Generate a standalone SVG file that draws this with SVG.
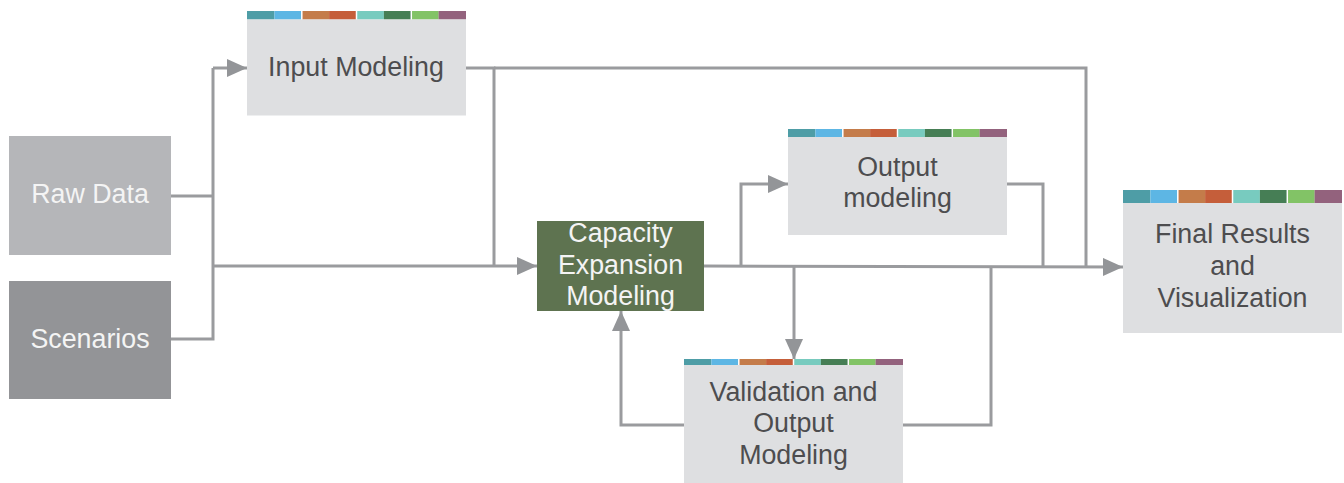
<svg xmlns="http://www.w3.org/2000/svg" width="1344" height="483" viewBox="0 0 1344 483">
  <style>
    .box { fill: #DEDFE1; }
    .lbl { font-family: "Liberation Sans", Arial, sans-serif; font-size: 26.8px; fill: #4D4D4F; text-anchor: middle; }
    .wlbl { font-family: "Liberation Sans", Arial, sans-serif; font-size: 26.8px; fill: #F4F4F4; text-anchor: middle; }
    .wire { fill: none; stroke: #9A9B9E; stroke-width: 3; }
    .c1 { fill: #4E9DA6; } .c2 { fill: #5DB6E4; } .c3 { fill: #C47C4A; } .c4 { fill: #C55E3A; }
    .c5 { fill: #78CBBF; } .c6 { fill: #467E55; } .c7 { fill: #82C366; } .c8 { fill: #93627D; }
    .gap { stroke: #FFFFFF; stroke-width: 1.5; }
  </style>
  <defs>
    <marker id="arrow" viewBox="0 0 20 18" refX="20" refY="9" markerWidth="20" markerHeight="18" markerUnits="userSpaceOnUse" orient="auto">
      <path d="M0,0 L20,9 L0,18 Z" fill="#939598"/>
    </marker>
    <!-- eight-colour header strip, 219 wide -->
    <g id="strip">
      <rect class="c1" x="0" y="0" width="27.4" height="1"/>
      <rect class="c2" x="27.4" y="0" width="27.4" height="1"/>
      <rect class="c3" x="54.8" y="0" width="27.4" height="1"/>
      <rect class="c4" x="82.1" y="0" width="27.4" height="1"/>
      <rect class="c5" x="109.5" y="0" width="27.4" height="1"/>
      <rect class="c6" x="136.9" y="0" width="27.4" height="1"/>
      <rect class="c7" x="164.3" y="0" width="27.4" height="1"/>
      <rect class="c8" x="191.6" y="0" width="27.4" height="1"/>
    </g>
  </defs>

  <!-- connectors -->
  <g id="connectors">
    <!-- sources to bus -->
    <polyline class="wire" points="171,196 213,196"/>
    <polyline class="wire" points="171,339 213,339 213,68"/>
    <polyline class="wire" points="213,68 247,68" marker-end="url(#arrow)"/>
    <polyline class="wire" points="213,266 537,266" marker-end="url(#arrow)"/>
    <!-- input modeling outputs -->
    <polyline class="wire" points="466,68 494,68 494,266"/>
    <polyline class="wire" points="494,68 1086,68 1086,267"/>
    <!-- capacity expansion outputs -->
    <polyline class="wire" points="704,266 1123,267" marker-end="url(#arrow)"/>
    <polyline class="wire" points="741,266 741,184 788,184" marker-end="url(#arrow)"/>
    <polyline class="wire" points="794,266 794,359" marker-end="url(#arrow)"/>
    <!-- output modeling to final -->
    <polyline class="wire" points="1007,184 1043,184 1043,267"/>
    <!-- validation loops -->
    <polyline class="wire" points="903,425 991,425 991,267"/>
    <polyline class="wire" points="684,425 621,425 621,311" marker-end="url(#arrow)"/>
  </g>

  <!-- Raw Data -->
  <g id="raw-data">
    <rect x="9" y="136" width="162" height="119" fill="#B5B6B9"/>
    <text class="wlbl" x="90" y="203">Raw Data</text>
  </g>

  <!-- Scenarios -->
  <g id="scenarios">
    <rect x="9" y="281" width="162" height="118" fill="#939497"/>
    <text class="wlbl" x="90" y="348">Scenarios</text>
  </g>

  <!-- Input Modeling -->
  <g id="input-modeling">
    <use href="#strip" transform="translate(247,11) scale(1,8.5)"/>
    <rect class="box" x="247" y="19.5" width="219" height="96"/>
    <text class="lbl" x="356" y="76">Input Modeling</text>
  </g>

  <!-- Capacity Expansion Modeling -->
  <g id="capacity-expansion">
    <rect x="537" y="221" width="167" height="90" fill="#5E7350"/>
    <text class="wlbl" x="620.5" y="242">Capacity</text>
    <text class="wlbl" x="620.5" y="274">Expansion</text>
    <text class="wlbl" x="620.5" y="305">Modeling</text>
  </g>

  <!-- Output modeling -->
  <g id="output-modeling">
    <use href="#strip" transform="translate(788,129) scale(1,8)"/>
    <rect class="box" x="788" y="137" width="219" height="98"/>
    <text class="lbl" x="897.5" y="176">Output</text>
    <text class="lbl" x="897.5" y="207">modeling</text>
  </g>

  <!-- Final Results and Visualization -->
  <g id="final-results">
    <use href="#strip" transform="translate(1123,190) scale(1,13)"/>
    <rect class="box" x="1123" y="203" width="219" height="130"/>
    <text class="lbl" x="1232.5" y="243">Final Results</text>
    <text class="lbl" x="1232.5" y="275">and</text>
    <text class="lbl" x="1232.5" y="307">Visualization</text>
  </g>

  <!-- Validation and Output Modeling -->
  <g id="validation">
    <use href="#strip" transform="translate(684,359) scale(1,6)"/>
    <rect class="box" x="684" y="365" width="219" height="118"/>
    <text class="lbl" x="793.5" y="401">Validation and</text>
    <text class="lbl" x="793.5" y="432">Output</text>
    <text class="lbl" x="793.5" y="464">Modeling</text>
  </g>

  <!-- thin white separators in the header strips -->
  <g id="strip-gaps" class="gap">
    <line x1="301.8" y1="11" x2="301.8" y2="19.5"/><line x1="356.5" y1="11" x2="356.5" y2="19.5"/><line x1="411.3" y1="11" x2="411.3" y2="19.5"/>
    <line x1="842.8" y1="129" x2="842.8" y2="137"/><line x1="897.5" y1="129" x2="897.5" y2="137"/><line x1="952.3" y1="129" x2="952.3" y2="137"/>
    <line x1="1177.8" y1="190" x2="1177.8" y2="203"/><line x1="1232.5" y1="190" x2="1232.5" y2="203"/><line x1="1287.3" y1="190" x2="1287.3" y2="203"/>
    <line x1="738.8" y1="359" x2="738.8" y2="365"/><line x1="793.5" y1="359" x2="793.5" y2="365"/><line x1="848.3" y1="359" x2="848.3" y2="365"/>
  </g>
</svg>
